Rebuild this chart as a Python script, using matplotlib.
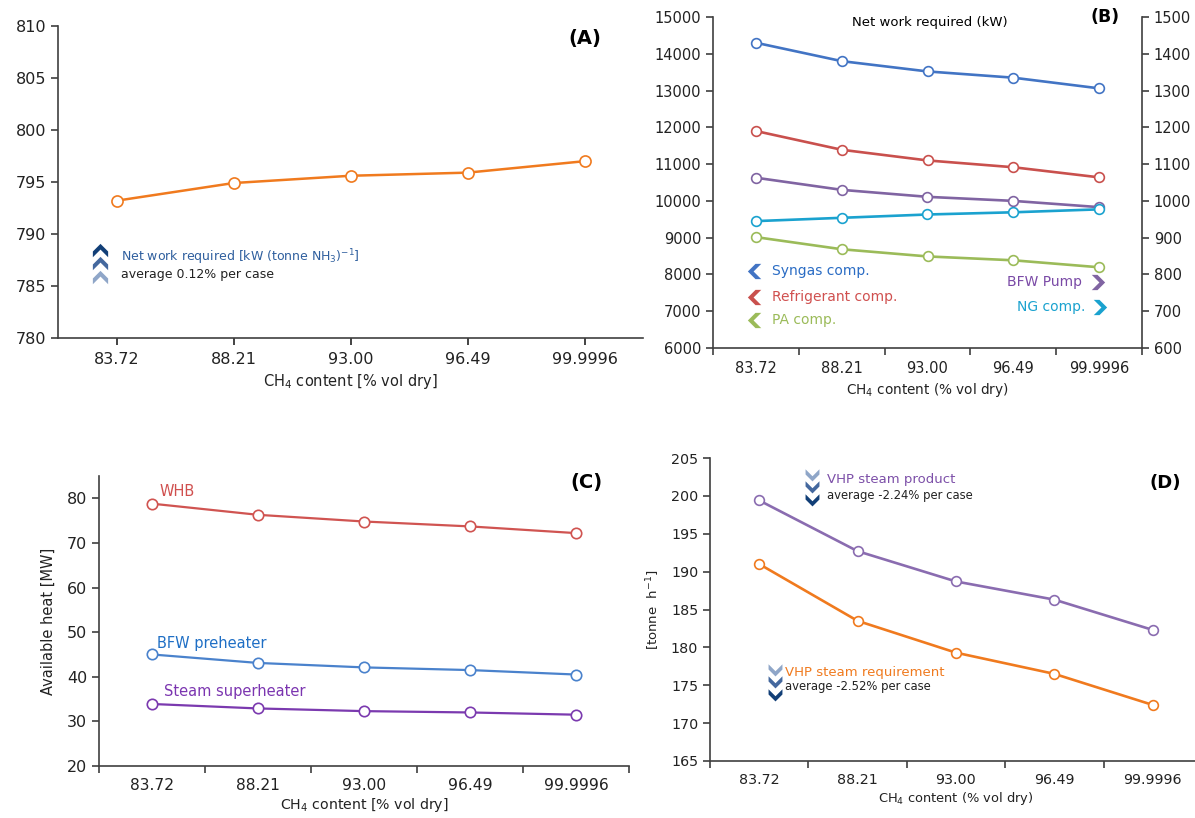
import numpy as np
import matplotlib.pyplot as plt
from matplotlib.path import Path

plt.rcParams['font.family'] = ['DejaVu Sans']
plt.rcParams['mathtext.fontset'] = 'dejavusans'

# Data
cases = ['83.72', '88.21', '93.00', '96.49', '99.9996']

net_work_specific = [793.2, 794.9, 795.6, 795.9, 797.0]

syngas_comp = [14300, 13800, 13520, 13350, 13060]
refrig_comp = [11900, 11390, 11100, 10915, 10640]
pa_comp = [9015, 8685, 8490, 8385, 8195]
bfw_pump = [1063, 1030, 1011, 1000, 983]
ng_comp = [945, 954, 963, 969, 977]

whb = [78.8, 76.3, 74.8, 73.7, 72.2]
bfw_preheater = [45.0, 43.1, 42.1, 41.5, 40.5]
steam_superheater = [33.9, 32.9, 32.3, 32.0, 31.5]

vhp_product = [199.4, 192.7, 188.7, 186.3, 182.3]
vhp_requirement = [191.0, 183.5, 179.3, 176.5, 172.4]

x = np.arange(len(cases))

# Colours
ORANGE = '#f07a1e'
BLUE = '#4274c4'
RED = '#c9504d'
GREEN = '#9bbb59'
PURPLE = '#8064a2'
CYAN = '#1aa2cf'
NAVY = '#123f77'
MIDNAVY = '#44689e'
LIGHTNAVY = '#8fa6c8'
SPINE = '#404040'


def chevron(direction, h=0.75):
    pts = [(-1, 0), (0, 1), (1, 0), (1, -h), (0, 1 - h), (-1, -h), (-1, 0)]
    if direction == 'down':
        pts = [(px, -py) for px, py in pts]
    elif direction == 'left':
        pts = [(-py, px) for px, py in pts]
    elif direction == 'right':
        pts = [(py, -px) for px, py in pts]
    codes = [Path.MOVETO] + [Path.LINETO] * 5 + [Path.CLOSEPOLY]
    return Path(pts, codes)


W, H = 1195, 818
fig = plt.figure(figsize=(W / 100, H / 100), dpi=100)


def add_ax(l, t, r, b):
    return fig.add_axes([l / W, 1 - b / H, (r - l) / W, (b - t) / H])


def style(ax, between=True, xsize=11, ysize=11):
    for s in ['top', 'right']:
        ax.spines[s].set_visible(False)
    for s in ['left', 'bottom']:
        ax.spines[s].set_color(SPINE)
        ax.spines[s].set_linewidth(1.2)
    ax.set_xticks(x)
    ax.set_xticklabels(cases)
    if between:
        ax.set_xticks(np.arange(-0.5, len(cases)), minor=True)
        ax.tick_params(axis='x', which='major', length=0, pad=9)
        ax.tick_params(axis='x', which='minor', length=5, width=1.2, color=SPINE)
    else:
        ax.tick_params(axis='x', which='major', length=5, width=1.2, color=SPINE, pad=5)
    ax.tick_params(axis='x', labelsize=xsize, colors='#222222')
    ax.tick_params(axis='y', length=5, width=1.2, color=SPINE, labelsize=ysize,
                   colors='#222222')
    ax.set_xlim(-0.5, len(cases) - 0.5)


def line(ax, y, color, ms=7.5, lw=1.8):
    ax.plot(x, y, color=color, lw=lw, marker='o', ms=ms, mfc='white',
            mec=color, mew=1.2, zorder=3, clip_on=False)


# ---------------- (A) ----------------
axA = add_ax(58, 26, 643, 338)
style(axA, between=False, xsize=11.5, ysize=11.5)
line(axA, net_work_specific, ORANGE, ms=8, lw=1.8)
axA.set_ylim(780, 810)
axA.set_yticks(np.arange(780, 811, 5))
axA.set_xlabel('CH$_4$ content [% vol dry]', fontsize=10.5, color='#222222', labelpad=4)
axA.text(4.0, 808.8, '(A)', fontsize=14, fontweight='bold', ha='center', va='center')
for yy, cc in zip([788.4, 787.1, 785.8], [NAVY, MIDNAVY, LIGHTNAVY]):
    axA.plot(-0.14, yy, marker=chevron('up'), ms=11, color=cc, mec='none')
axA.text(0.04, 787.8, 'Net work required [kW (tonne NH$_3$)$^{-1}$]', fontsize=9,
         color='#2f5f9e', va='center')
axA.text(0.04, 786.1, 'average 0.12% per case', fontsize=9, color='#222222', va='center')

# ---------------- (B) ----------------
axB = add_ax(713, 17, 1142, 348)
style(axB, xsize=10.5, ysize=10.5)
axB.set_ylim(6000, 15000)
axB.set_yticks(np.arange(6000, 15001, 1000))
axB2 = axB.twinx()
axB2.set_ylim(600, 1500)
axB2.set_yticks(np.arange(600, 1501, 100))
for s in ['top', 'left', 'bottom']:
    axB2.spines[s].set_visible(False)
axB2.spines['right'].set_color(SPINE)
axB2.spines['right'].set_linewidth(1.2)
axB2.tick_params(axis='y', length=5, width=1.2, color=SPINE, labelsize=10.5, colors='#222222')

line(axB, syngas_comp, BLUE, ms=7, lw=1.9)
line(axB, refrig_comp, RED, ms=7, lw=1.9)
line(axB, pa_comp, GREEN, ms=7, lw=1.9)
line(axB2, bfw_pump, PURPLE, ms=7, lw=1.9)
line(axB2, ng_comp, CYAN, ms=7, lw=1.9)

axB.set_xlabel('CH$_4$ content (% vol dry)', fontsize=9.8, color='#222222', labelpad=4)
axB.text(2.03, 14860, 'Net work required (kW)', fontsize=9.5, ha='center', va='center')
axB.text(4.07, 15000, '(B)', fontsize=12.5, fontweight='bold', ha='center', va='center')

axB.plot(-0.01, 8100, marker=chevron('left'), ms=11, color=BLUE, mec='none')
axB.text(0.19, 8100, 'Syngas comp.', fontsize=10, color='#2a6cc4', va='center')
axB.plot(-0.01, 7390, marker=chevron('left'), ms=11, color=RED, mec='none')
axB.text(0.19, 7390, 'Refrigerant comp.', fontsize=10, color='#d0504f', va='center')
axB.plot(-0.01, 6770, marker=chevron('left'), ms=11, color=GREEN, mec='none')
axB.text(0.19, 6770, 'PA comp.', fontsize=10, color=GREEN, va='center')
axB.plot(3.98, 7800, marker=chevron('right'), ms=11, color=PURPLE, mec='none')
axB.text(3.80, 7800, 'BFW Pump', fontsize=10, color='#7a4aa6', va='center', ha='right')
axB.plot(4.0, 7120, marker=chevron('right'), ms=11, color=CYAN, mec='none')
axB.text(3.84, 7120, 'NG comp.', fontsize=10, color=CYAN, va='center', ha='right')

# ---------------- (C) ----------------
axC = add_ax(99, 476, 629, 766)
style(axC, xsize=11.2, ysize=11.5)
line(axC, whb, '#d05451', ms=7.5, lw=1.6)
line(axC, bfw_preheater, '#4a82cc', ms=7.5, lw=1.6)
line(axC, steam_superheater, '#7b3aaf', ms=7.5, lw=1.6)
axC.set_ylim(20, 85)
axC.set_yticks(np.arange(20, 81, 10))
axC.set_ylabel('Available heat [MW]', fontsize=10.5, color='#222222', labelpad=8)
axC.set_xlabel('CH$_4$ content [% vol dry]', fontsize=10.2, color='#222222', labelpad=2)
axC.text(4.1, 83.6, '(C)', fontsize=14, fontweight='bold', ha='center', va='center')
axC.text(0.075, 81.6, 'WHB', fontsize=10.5, color='#d0504f', va='center')
axC.text(0.047, 47.5, 'BFW preheater', fontsize=10.5, color='#1f6fc5', va='center')
axC.text(0.11, 36.6, 'Steam superheater', fontsize=10.5, color='#7b35b0', va='center')

# ---------------- (D) ----------------
axD = add_ax(710, 458, 1202, 761)
style(axD, xsize=10.3, ysize=10.3)
line(axD, vhp_product, '#8a6cb0', ms=7, lw=1.9)
line(axD, vhp_requirement, ORANGE, ms=7, lw=1.9)
axD.set_ylim(165, 205)
axD.set_yticks(np.arange(165, 206, 5))
axD.set_ylabel('[tonne  h$^{-1}$]', fontsize=9.5, color='#222222', labelpad=6)
axD.set_xlabel('CH$_4$ content (% vol dry)', fontsize=9.4, color='#222222', labelpad=2)
axD.text(4.13, 201.7, '(D)', fontsize=13, fontweight='bold', ha='center', va='center')
for yy, cc in zip([202.9, 201.3, 199.6], [LIGHTNAVY, MIDNAVY, NAVY]):
    axD.plot(0.54, yy, marker=chevron('down'), ms=10, color=cc, mec='none')
axD.text(0.69, 202.1, 'VHP steam product', fontsize=9.5, color='#7c4fa8', va='center')
axD.text(0.69, 200.1, 'average -2.24% per case', fontsize=8.4, color='#222222', va='center')
for yy, cc in zip([177.2, 175.6, 173.9], [LIGHTNAVY, MIDNAVY, NAVY]):
    axD.plot(0.16, yy, marker=chevron('down'), ms=10, color=cc, mec='none')
axD.text(0.26, 176.7, 'VHP steam requirement', fontsize=9.5, color='#f07a1e', va='center')
axD.text(0.26, 174.9, 'average -2.52% per case', fontsize=8.4, color='#222222', va='center')

fig.savefig('out.png', dpi=100, facecolor='white')
